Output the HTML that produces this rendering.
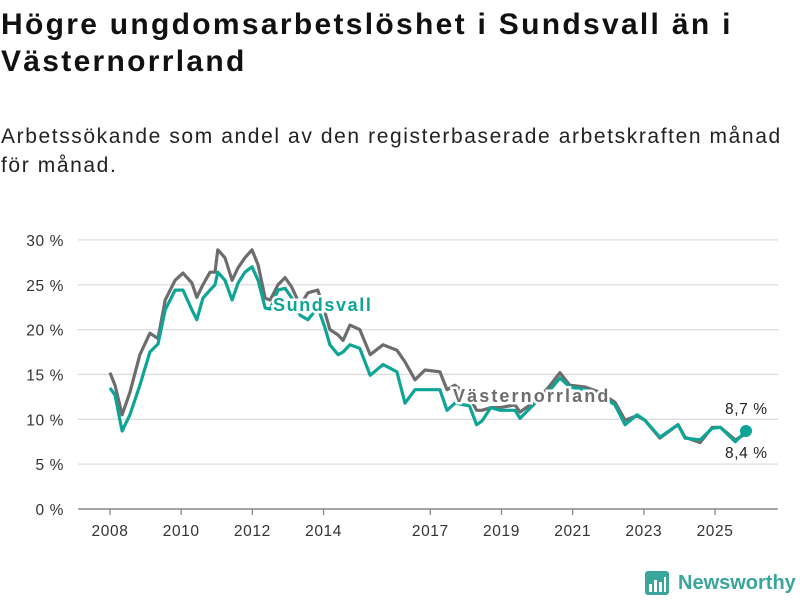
<!DOCTYPE html>
<html><head><meta charset="utf-8"><style>
body{margin:0;width:800px;height:600px;background:#fff;font-family:"Liberation Sans",sans-serif;overflow:hidden;position:relative}
#title{position:absolute;left:1px;top:6px;font-size:30px;font-weight:bold;line-height:37px;color:#111;letter-spacing:2.3px;white-space:nowrap}
#sub{position:absolute;left:1px;top:122px;font-size:21px;line-height:29px;color:#222;letter-spacing:1.6px;white-space:nowrap}
svg{position:absolute;left:0;top:0}
</style></head><body>
<div id="title">Högre ungdomsarbetslöshet i Sundsvall än i<br>Västernorrland</div>
<div id="sub">Arbetssökande som andel av den registerbaserade arbetskraften månad<br>för månad.</div>
<svg id="chart" width="800" height="600"></svg>
<script>
const dates=[2008.0,2008.14,2008.34,2008.56,2008.84,2009.12,2009.35,2009.55,2009.83,2010.05,2010.3,2010.44,2010.61,2010.81,2010.95,2011.03,2011.23,2011.43,2011.6,2011.79,2011.99,2012.16,2012.36,2012.5,2012.72,2012.92,2013.11,2013.34,2013.56,2013.84,2014.04,2014.18,2014.41,2014.55,2014.74,2015.02,2015.31,2015.67,2016.06,2016.29,2016.57,2016.85,2017.27,2017.47,2017.69,2018.1,2018.3,2018.45,2018.7,2018.96,2019.38,2019.52,2019.94,2020.31,2020.64,2020.92,2021.35,2021.77,2022.19,2022.47,2022.81,2023.03,2023.45,2023.96,2024.16,2024.58,2024.92,2025.15,2025.57,2025.87];
const vasternorrland=[15.2,13.8,10.5,13,17.2,19.6,19,23.3,25.5,26.3,25.2,23.6,25,26.4,26.4,28.9,28,25.5,26.9,28,28.9,27.2,23.5,23.3,25,25.8,24.7,22.7,24.1,24.4,21.9,20,19.4,18.8,20.5,20,17.2,18.3,17.7,16.4,14.4,15.5,15.3,13.3,13.8,12.5,11,11,11.3,11.3,11.6,10.8,12,13.5,15.2,13.8,13.6,13,11.9,9.9,10.4,9.9,7.9,9.4,8,7.4,9.1,9.1,7.7,8.4];
const sundsvall=[13.5,12.7,8.7,10.5,13.8,17.5,18.4,22.2,24.4,24.4,22.2,21.1,23.5,24.4,25,26.4,25.5,23.3,25.2,26.4,27,25.5,22.4,22.3,24.4,24.6,23.5,21.6,21.1,22.5,20.2,18.3,17.2,17.5,18.3,17.9,14.9,16.1,15.3,11.8,13.3,13.3,13.3,11,11.8,11.5,9.4,9.8,11.3,11,11,10.1,11.8,13,14.6,13.6,13.3,12.7,11.6,9.4,10.5,9.9,8,9.4,7.9,7.7,9,9.1,7.5,8.7];
const yTicks=[0,5,10,15,20,25,30];
const xTicks=[2008,2010,2012,2014,2017,2019,2021,2023,2025];
const NS="http://www.w3.org/2000/svg";
const svg=document.getElementById('chart');
const X=y=>110+(y-2008)*35.59;
const Y=v=>509-v*8.97;
function mk(t,a,p){const e=document.createElementNS(NS,t);for(const k in a)e.setAttribute(k,a[k]);(p||svg).appendChild(e);return e;}
yTicks.forEach(v=>{
 const l=mk('line',{x1:78,x2:778,y1:Y(v),y2:Y(v),stroke:v==0?'#888':'#ddd','stroke-width':v==0?1.5:1.3});
 
 
 const t=mk('text',{x:64,y:Y(v)+6,'text-anchor':'end','font-size':15.5,'letter-spacing':0.6,fill:'#333'});
 t.textContent=v+' %';
 
 
});
xTicks.forEach(yr=>{
 const l=mk('line',{x1:X(yr),x2:X(yr),y1:509,y2:515,stroke:'#888','stroke-width':1.3});
 
 
 const t=mk('text',{x:X(yr),y:536,'text-anchor':'middle','font-size':15.5,'letter-spacing':0.6,fill:'#333'});
 t.textContent=yr;
 
 
});
function line(vals,color,name){
 const d=vals.map((v,i)=>(i?'L':'M')+X(dates[i]).toFixed(1)+','+Y(v).toFixed(1)).join('');
 const p=mk('path',{d:d,fill:'none',stroke:color,'stroke-width':3.2,'stroke-linejoin':'round'});
 
 
}
line(vasternorrland,'#6d6d70','vasternorrland-line');
line(sundsvall,'#0ea597','sundsvall-line');
const n=dates.length-1;
const dot=mk('circle',{cx:X(dates[n]),cy:Y(sundsvall[n]),r:6,fill:'#0ea597'});


function lbl(x,y,txt,color,name,bold,ls){
 const t=mk('text',{x:x,y:y,'font-size':bold?18:15.5,'font-weight':bold?'bold':'normal','letter-spacing':ls,fill:color,stroke:'#fff','stroke-width':bold?5:0,'paint-order':'stroke'});
 t.textContent=txt;
 
 
}
lbl(273,311,'Sundsvall','#0ea597','sundsvall-label',true,1.6);
lbl(453,402,'Västernorrland','#6d6d70','vasternorrland-label',true,2.1);
lbl(725,414,sundsvall[n].toFixed(1).replace('.',',')+' %','#222','sundsvall-end-value',false,0.6);
lbl(725,458,vasternorrland[n].toFixed(1).replace('.',',')+' %','#222','vasternorrland-end-value',false,0.6);
</script>
<div style="position:absolute;left:645px;top:570px;height:26px;display:flex;align-items:center">
<svg width="24" height="24" style="position:static" viewBox="0 0 24 24"><rect width="24" height="24" rx="3" fill="#3aa59a"/><rect x="4" y="13" width="3" height="8" fill="#fff"/><rect x="9" y="9" width="3" height="12" fill="#fff"/><rect x="14" y="11" width="3" height="10" fill="#fff"/><rect x="19" y="6" width="2" height="15" fill="#fff"/></svg>
<span style="margin-left:9px;font-size:20px;font-weight:bold;color:#3aa59a">Newsworthy</span></div>
</body></html>
